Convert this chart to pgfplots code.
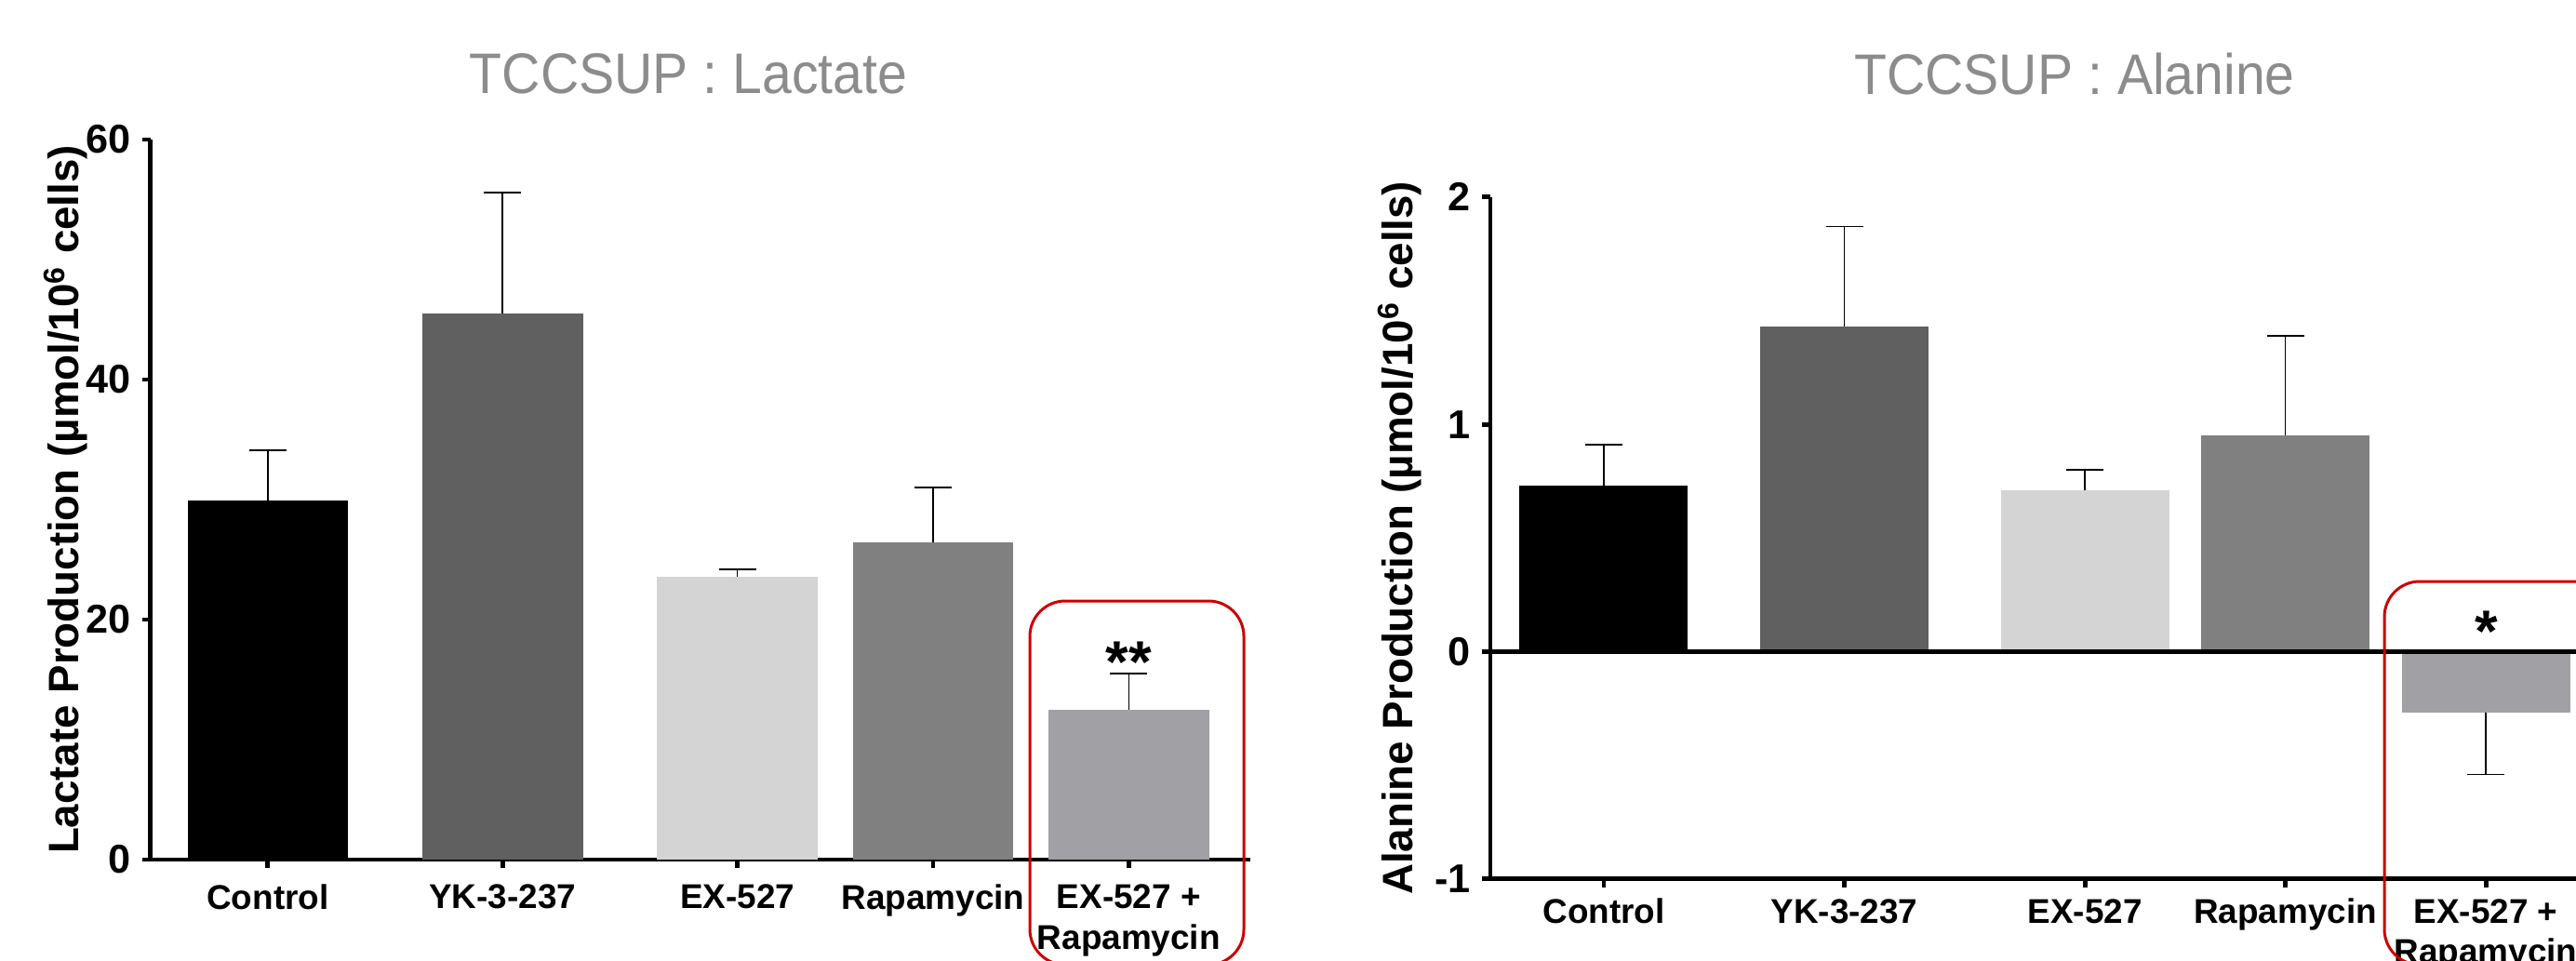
\documentclass[border=0pt]{standalone}
\usepackage{fontspec}
\setmainfont{Liberation Sans}
\usepackage{pgfplots}
\pgfplotsset{compat=1.18}
\definecolor{cA}{RGB}{0,0,0}
\definecolor{cB}{RGB}{96,96,96}
\definecolor{cC}{RGB}{212,212,212}
\definecolor{cD}{RGB}{128,128,128}
\definecolor{cE}{RGB}{160,160,165}
\definecolor{boxred}{RGB}{204,0,0}
\definecolor{titlegray}{RGB}{140,140,140}
\pgfplotsset{
 mybar/.style={scale only axis, axis x line=bottom, axis y line=left,
  axis line style={-, line width=1.4pt},
  tick style={line width=1.4pt, black}, tick align=outside, major tick length=0.09cm,
  xtick={0,1.2,2.4,3.4,4.4},
  xticklabels={Control,YK-3-237,EX-527,Rapamycin,{EX-527 +\\Rapamycin}},
  xticklabel style={font=\bfseries\fontsize{10.5}{12.5}\selectfont, align=center, anchor=north},
  yticklabel style={font=\bfseries\fontsize{12.3}{12.3}\selectfont},
  /pgf/number format/assume math mode=true,
  ylabel style={font=\bfseries\fontsize{13}{13}\selectfont, at={(axis description cs:-0.077,0.5)}, anchor=center},
  clip=false},
 bb/.style={ybar, bar shift=0pt, draw=none, fill=#1,
  error bars/y explicit, error bars/error bar style={line width=0.45pt, draw=black},
  error bars/error mark options={rotate=90, mark size=5.7pt, line width=0.45pt, draw=black}},
}
\begin{document}
\begin{tikzpicture}[x=1cm,y=1cm]
\useasboundingbox (0,0) rectangle (27.69,10.32);
\clip (0,0) rectangle (27.69,10.32);
\begin{axis}[mybar, at={(1.617cm,1.08cm)}, anchor=south west,
  width=11.82cm, height=7.74cm, xmin=-0.6, xmax=5.02, ymin=0, ymax=60,
  ytick={0,20,40,60}, yticklabels={0,20,40,60},
  xticklabel style={yshift=-0.05cm},
  ylabel={Lactate Production (µmol/10\textsuperscript{6} cells)}]
\addplot[bb=cA, bar width=0.82, error bars/y dir=plus] coordinates {(0,29.9) +- (0,4.2)};
\addplot[bb=cB, bar width=0.82, error bars/y dir=plus] coordinates {(1.2,45.5) +- (0,10.1)};
\addplot[bb=cC, bar width=0.82, error bars/y dir=plus] coordinates {(2.4,23.6) +- (0,0.6)};
\addplot[bb=cD, bar width=0.82, error bars/y dir=plus] coordinates {(3.4,26.4) +- (0,4.6)};
\addplot[bb=cE, bar width=0.82, error bars/y dir=plus] coordinates {(4.4,12.5) +- (0,3.0)};
\end{axis}
\begin{axis}[mybar, at={(16.02cm,0.872cm)}, anchor=south west,
  width=12.64cm, height=7.33cm, xmin=-0.566, xmax=5.3, ymin=-1, ymax=2,
  ytick={-1,0,1,2}, yticklabels={-1,0,1,2},
  ylabel={Alanine Production (µmol/10\textsuperscript{6} cells)}]
\addplot[bb=cA, bar width=0.84, error bars/y dir=plus] coordinates {(0,0.73) +- (0,0.18)};
\addplot[bb=cB, bar width=0.84, error bars/y dir=plus] coordinates {(1.2,1.43) +- (0,0.44)};
\addplot[bb=cC, bar width=0.84, error bars/y dir=plus] coordinates {(2.4,0.71) +- (0,0.09)};
\addplot[bb=cD, bar width=0.84, error bars/y dir=plus] coordinates {(3.4,0.95) +- (0,0.44)};
\addplot[bb=cE, bar width=0.84, error bars/y dir=minus] coordinates {(4.4,-0.27) +- (0,0.27)};
\addplot[black, line width=1.4pt] coordinates {(-0.566,0) (5.3,0)};
\end{axis}
\node[text=titlegray, font=\fontsize{17.5}{17.5}\selectfont, xscale=0.93] at (7.4,9.525) {TCCSUP : Lactate};
\node[text=titlegray, font=\fontsize{17.5}{17.5}\selectfont, xscale=0.93] at (22.3,9.525) {TCCSUP : Alanine};
\draw[boxred, line width=0.85pt, rounded corners=0.38cm] (11.07,-0.05) rectangle (13.37,3.86);
\draw[boxred, line width=0.85pt, rounded corners=0.38cm] (25.63,-0.05) rectangle (28.6,4.07);
\node[font=\bfseries\fontsize{18}{18}\selectfont, anchor=base] at (12.13,2.99) {**};
\node[font=\bfseries\fontsize{18}{18}\selectfont, anchor=base] at (26.73,3.32) {*};
\end{tikzpicture}
\end{document}
